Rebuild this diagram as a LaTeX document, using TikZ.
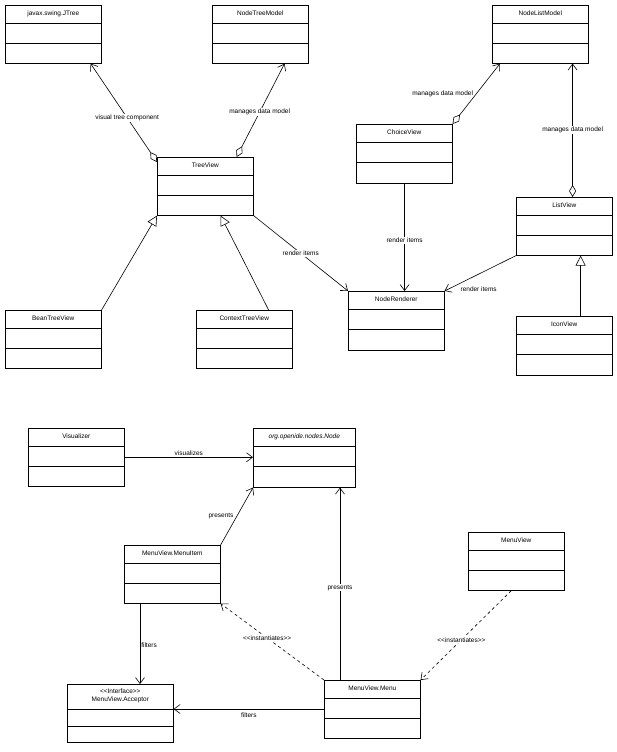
\documentclass[tikz,border=0pt]{standalone}
\usepackage{fontspec}
\setmainfont{Liberation Sans}
\usetikzlibrary{arrows.meta}
\begin{document}
\begin{tikzpicture}[x=1pt,y=-1pt,
  box/.style={draw,fill=white,inner sep=0pt,line width=0.6pt},
  lbl/.style={font=\fontsize{6.5}{7.5}\selectfont,inner sep=1pt},
  every path/.style={line width=0.6pt},
  nav/.style={-{Straight Barb[length=6pt,width=9pt]}},
  agg/.style={{Diamond[open,length=12pt,width=7pt]}-{Straight Barb[length=6pt,width=9pt]}},
  inh/.style={-{Triangle[open,length=10pt,width=10pt]}},
  dep/.style={dashed,-{Straight Barb[length=6pt,width=9pt]}}]
\fill[white] (0,0) rectangle (617,752);
\useasboundingbox (0,0) rectangle (617,752);
\newcommand\cls[6]{%
  \node[box,minimum width=#4pt,minimum height=#5pt,anchor=north west] (#1) at (#2,#3) {};
  \node[lbl] (#1t) at ([yshift=-8.5pt]#1.north) {#6};
  \draw ([yshift=-18pt]#1.north west)--([yshift=-18pt]#1.north east);
  \draw ([yshift=-38pt]#1.north west)--([yshift=-38pt]#1.north east);}
\cls{jtree}{5}{5}{96}{58}{javax.swing.JTree}
\cls{ntm}{212}{5}{96}{58}{NodeTreeModel}
\cls{nlm}{492}{5}{96}{58}{NodeListModel}
\cls{tv}{157}{157}{96}{58}{TreeView}
\cls{cv}{356}{124}{96}{59}{ChoiceView}
\cls{lv}{516}{197}{96}{58}{ListView}
\cls{btv}{5}{310}{96}{58}{BeanTreeView}
\cls{ctv}{196}{310}{96}{58}{ContextTreeView}
\cls{nr}{348}{291}{96}{59}{NodeRenderer}
\cls{iv}{516}{316}{96}{59}{IconView}
\cls{vis}{28}{428}{96}{58}{Visualizer}
\cls{node}{253}{428}{102}{59}{\itshape org.openide.nodes.Node}
\cls{mi}{124}{545}{96}{58}{MenuView.MenuItem}
\cls{mv}{468}{532}{96}{58}{MenuView}
\cls{menu}{324}{680}{96}{58}{MenuView.Menu}
% Acceptor
\node[box,minimum width=106pt,minimum height=58pt,anchor=north west] (acc) at (67,684) {};
\node[lbl,align=center] (acct) at ([yshift=-12pt]acc.north) {<{}<Interface>{}>\\MenuView.Acceptor};
\draw ([yshift=-25pt]acc.north west)--([yshift=-25pt]acc.north east);
\draw ([yshift=-42pt]acc.north west)--([yshift=-42pt]acc.north east);
% top connectors
\draw[agg] ([yshift=-5pt]tv.north west) -- ([xshift=-11pt]jtree.south east) node[lbl,pos=0.45,fill=white] (l1) {visual tree component};
\draw[agg] ([xshift=-17pt]tv.north east) -- ([xshift=-24pt]ntm.south east) node[lbl,pos=0.48,fill=white] (l2) {manages data model};
\draw[agg] (cv.north east) -- ([xshift=8pt]nlm.south west) node[lbl,pos=0.5,left,xshift=-2pt] (l3) {manages data model};
\draw[agg] ([xshift=-40pt]lv.north east) -- ([xshift=-16pt]nlm.south east) node[lbl,pos=0.5,fill=white] (l4) {manages data model};
\draw[inh] (btv.north east) -- (tv.south west);
\draw[inh] ([xshift=-24pt]ctv.north east) -- ([xshift=-33pt]tv.south east);
\draw[inh] ([xshift=-32pt]iv.north east) -- ([xshift=-32pt]lv.south east);
\draw[nav] (tv.south east) -- (nr.north west) node[lbl,pos=0.5,fill=white] (l5) {render items};
\draw[nav] ([xshift=-48pt]cv.south east) -- ([xshift=-40pt]nr.north east) node[lbl,pos=0.53,fill=white] (l6) {render items};
\draw[nav] (lv.south west) -- (nr.north east) node[lbl,pos=0.85,below right,xshift=4pt] (l7) {render items};
% bottom connectors
\draw[nav] (vis.east) -- ([yshift=0pt]node.west |- vis.east) node[lbl,pos=0.5,above] (l8) {visualizes};
\draw[nav] (mi.north east) -- ([yshift=0pt]node.south west) node[lbl,pos=0.5,left,xshift=-2pt] (l9) {presents};
\draw[nav] ([xshift=16pt]menu.north west) -- ([xshift=16pt]menu.north west |- node.south) node[lbl,pos=0.48,fill=white] (l10) {presents};
\draw[dep] (menu.north west) -- (mi.south east) node[lbl,pos=0.55,fill=white] (l11) {<{}<instantiates>{}>};
\draw[dep] ([xshift=-5pt]mv.south) -- (menu.north east) node[lbl,pos=0.55,fill=white] (l12) {<{}<instantiates>{}>};
\draw[nav] ([xshift=16pt]mi.south west) -- ([xshift=73pt]acc.north west) node[lbl,pos=0.52,right] (l13) {filters};
\draw[nav] ([yshift=-29pt]menu.north west) -- ([yshift=-25pt]acc.north east) node[lbl,pos=0.5,below,yshift=-2pt] (l14) {filters};
\end{tikzpicture}
\end{document}
